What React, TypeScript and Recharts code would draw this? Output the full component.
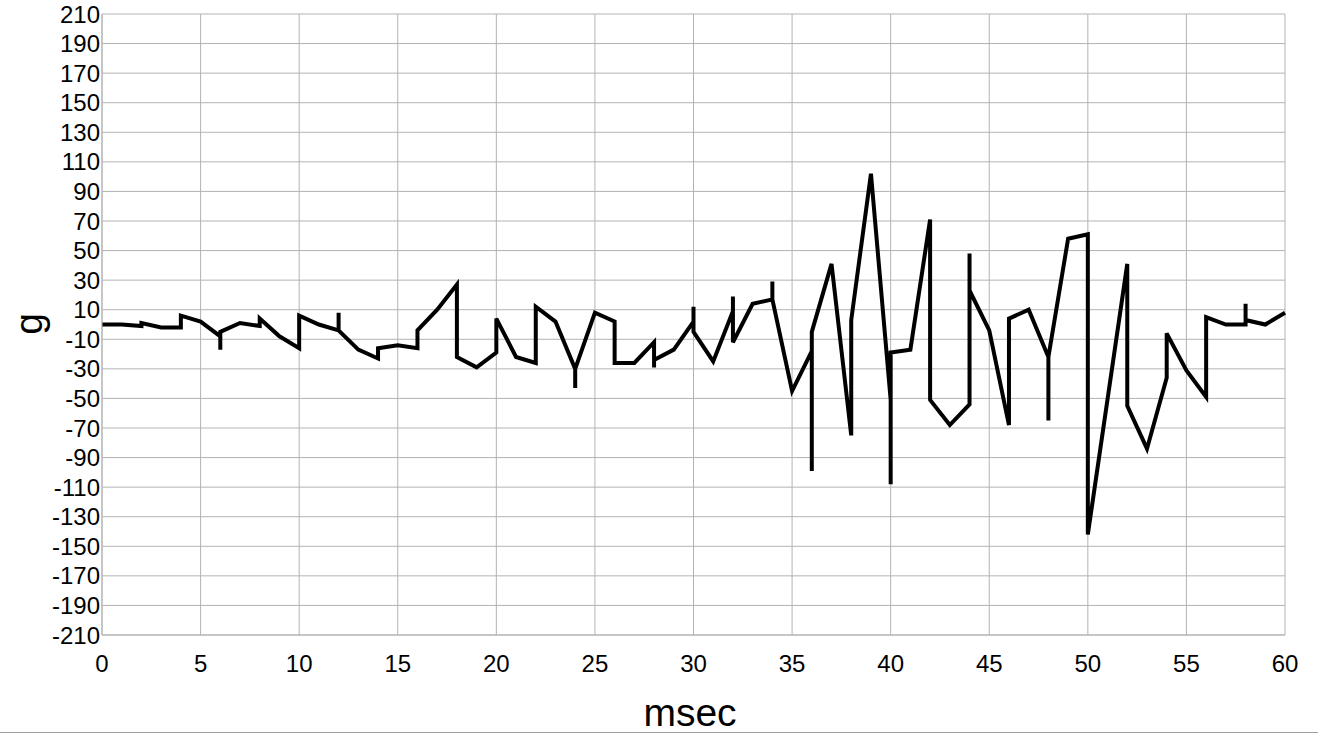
import React from 'react';
import { LineChart, Line, XAxis, YAxis, CartesianGrid } from 'recharts';

// sample times (ms) - repeated values give the vertical jumps
const msec = [
  0, 1, 2, 2, 3, 4, 4, 5, 6, 6, 6, 7, 8, 8, 9, 10, 10, 11, 12, 12, 12, 13, 14, 14, 15,
  16, 16, 17, 18, 18, 19, 20, 20, 21, 22, 22, 23, 24, 24, 24, 25, 26, 26, 27, 28, 28, 28,
  29, 30, 30, 30, 31, 32, 32, 32, 33, 34, 34, 34, 35, 36, 36, 36, 37, 38, 38, 39, 40, 40,
  40, 41, 42, 42, 43, 44, 44, 44, 45, 46, 46, 47, 48, 48, 48, 49, 50, 50, 52, 52, 53, 54,
  54, 55, 56, 56, 57, 58, 58, 58, 59, 60,
];

// acceleration (g)
const accel = [
  0, 0, -1, 1, -2, -2, 6, 2, -8, -17, -5, 1, -1, 4, -8, -16, 6, 0, -4, 8, -4, -17, -23, -16, -14,
  -16, -4, 10, 27, -22, -29, -19, 4, -22, -26, 12, 2, -30, -43, -30, 8, 2, -26, -26, -12, -29, -24,
  -17, 2, 12, -5, -25, 9, 19, -12, 14, 17, 29, 17, -45, -18, -99, -5, 41, -75, 3, 102, -51, -108,
  -19, -17, 71, -51, -68, -54, 48, 23, -4, -68, 4, 10, -22, -65, -22, 58, 61, -142, 41, -55, -84, -36,
  -6, -31, -49, 5, 0, 0, 14, 3, 0, 8,
];

const xTicks = [0, 5, 10, 15, 20, 25, 30, 35, 40, 45, 50, 55, 60];
const yTicks = [
  -210, -190, -170, -150, -130, -110, -90, -70, -50, -30, -10,
  10, 30, 50, 70, 90, 110, 130, 150, 170, 190, 210,
];

const data = msec.map((t, i) => ({ msec: t, g: accel[i] }));

const FONT = '"Liberation Sans", Arial, sans-serif';
const GRID = '#b3b3b3';

const YTitle = () => (
  <text
    x={28}
    y={324}
    transform="rotate(-90 28 324)"
    textAnchor="middle"
    dominantBaseline="central"
    fontSize={39}
    fontFamily={FONT}
    fill="#000"
  >
    g
  </text>
);

const XTitle = () => (
  <text
    x={690}
    y={712}
    textAnchor="middle"
    dominantBaseline="central"
    fontSize={39}
    fontFamily={FONT}
    fill="#000"
  >
    msec
  </text>
);

export default function App() {
  return (
    <div
      style={{
        position: 'absolute',
        left: 0,
        top: 0,
        width: 1318,
        height: 732,
        borderBottom: '1px solid #a0a0a0',
        background: '#fff',
        fontFamily: FONT,
      }}
    >
      <LineChart
        width={1318}
        height={732}
        data={data}
        margin={{ top: 14, right: 33, bottom: 0, left: 0 }}
      >
        <CartesianGrid stroke={GRID} strokeWidth={1} />
        <XAxis
          dataKey="msec"
          type="number"
          domain={[0, 60]}
          ticks={xTicks}
          interval={0}
          height={97}
          tickSize={0}
          tickMargin={20}
          axisLine={{ stroke: GRID }}
          tickLine={false}
          tick={{ fill: '#000', fontSize: 24, fontFamily: FONT }}
          label={<XTitle />}
        />
        <YAxis
          type="number"
          domain={[-210, 210]}
          ticks={yTicks}
          interval={0}
          width={102}
          tickSize={0}
          tickMargin={2}
          axisLine={{ stroke: GRID }}
          tickLine={false}
          tick={{ fill: '#000', fontSize: 24, fontFamily: FONT }}
          label={<YTitle />}
        />
        <Line
          type="linear"
          dataKey="g"
          stroke="#000"
          strokeWidth={4}
          dot={false}
          activeDot={false}
          isAnimationActive={false}
        />
      </LineChart>
    </div>
  );
}
